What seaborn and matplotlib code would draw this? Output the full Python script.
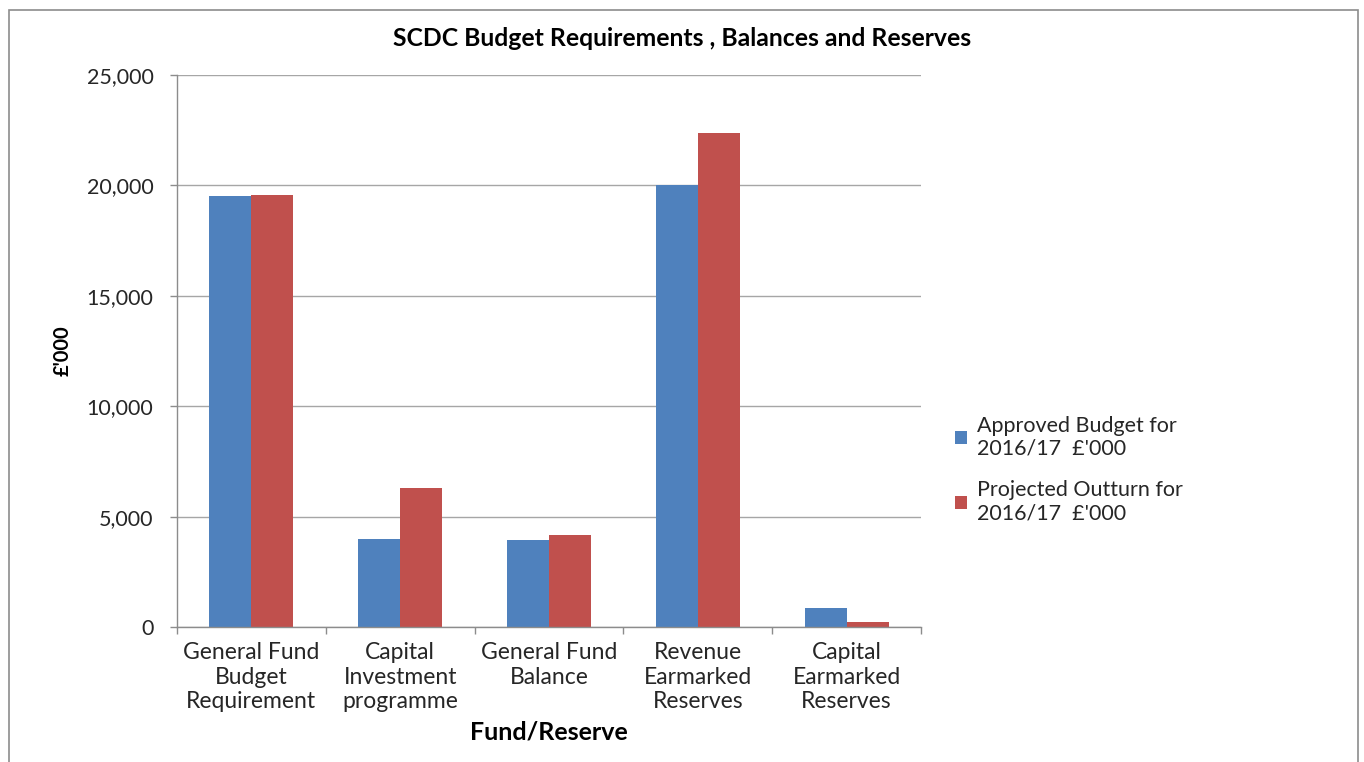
import matplotlib
matplotlib.use("Agg")
import matplotlib.pyplot as plt
import seaborn as sns
import pandas as pd
from matplotlib.patches import Rectangle
from matplotlib.ticker import FuncFormatter, FixedLocator

categories = ["General Fund\nBudget\nRequirement", "Capital\nInvestment\nprogramme",
              "General Fund\nBalance", "Revenue\nEarmarked\nReserves", "Capital\nEarmarked\nReserves"]
approved = [19500, 4000, 3930, 20000, 860]
projected = [19550, 6300, 4150, 22360, 210]
series = ["Approved Budget for\n2016/17  £'000", "Projected Outturn for\n2016/17  £'000"]
colors = ["#4F81BD", "#C0504D"]

df = pd.DataFrame({
    "Fund/Reserve": categories * 2,
    "value": approved + projected,
    "series": [series[0]] * len(categories) + [series[1]] * len(categories),
})

sns.set_theme(style="white")
plt.rcParams['font.family'] = ['Lato', 'DejaVu Sans']
text_color = "#262626"

fig = plt.figure(figsize=(13.64, 7.62), dpi=100)
ax = fig.add_axes([177/1364, 1-627/762, (921-177)/1364, (627-75)/762])

sns.barplot(data=df, x="Fund/Reserve", y="value", hue="series", palette=colors,
            width=0.565, saturation=1, ax=ax, edgecolor="none")

ax.set_ylim(0, 25000)
ax.set_xlim(-0.5, 4.5)
ax.set_yticks([0, 5000, 10000, 15000, 20000, 25000])
ax.yaxis.set_major_formatter(FuncFormatter(lambda v, p: f"{int(v):,}"))
ax.yaxis.grid(True, color="#A6A6A6", linewidth=1)
ax.set_axisbelow(True)
for s in ["top", "right"]:
    ax.spines[s].set_visible(False)
for s in ["left", "bottom"]:
    ax.spines[s].set_color("#8C8C8C")
    ax.spines[s].set_linewidth(1)

ax.tick_params(axis="y", which="major", length=5, width=1, color="#8C8C8C",
               labelsize=15.5, labelcolor=text_color, pad=12, left=True)
ax.tick_params(axis="x", which="major", length=0, labelsize=16.5, labelcolor=text_color, pad=11)
ax.xaxis.set_minor_locator(FixedLocator([-0.5, 0.5, 1.5, 2.5, 3.5, 4.5]))
ax.tick_params(axis="x", which="minor", length=5, width=1, color="#8C8C8C", bottom=True)
for lab in ax.get_xticklabels():
    lab.set_linespacing(1.2)
    lab.set_multialignment("center")

ax.set_xlabel("Fund/Reserve", fontsize=18, fontweight="bold", color="black", labelpad=6)
ax.set_ylabel("£'000", fontsize=14.5, fontweight="bold", color="black", labelpad=10)

fig.text(0.5, 1-38/762, "SCDC Budget Requirements , Balances and Reserves",
         ha="center", va="center", fontsize=17.8, fontweight="bold", color="black")

leg = ax.legend(loc="center left", bbox_to_anchor=(1.02, 0.285), frameon=False,
                fontsize=15.5, handlelength=0.55, handleheight=0.55, handletextpad=0.45,
                labelspacing=1.0, labelcolor=text_color)
for t in leg.get_texts():
    t.set_linespacing(1.2)

fig.add_artist(Rectangle((9/1364, -0.01), (1358-9)/1364, 1-10/762+0.01,
                         transform=fig.transFigure, fill=False, edgecolor="#8C8C8C", linewidth=1.2))

fig.savefig("out.png", dpi=100, facecolor="white")
